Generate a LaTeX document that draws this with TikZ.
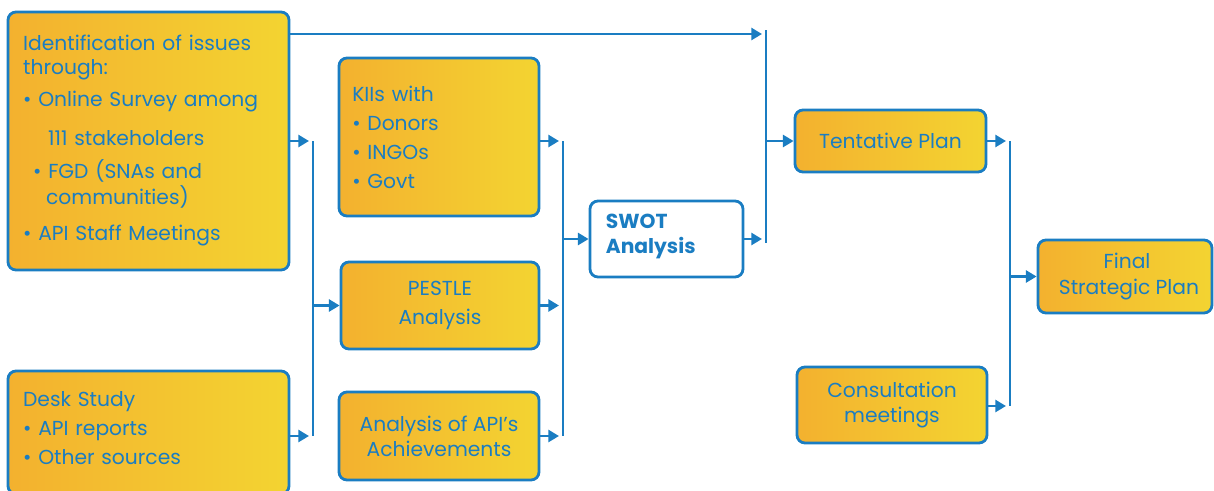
\documentclass[tikz,border=0pt]{standalone}
\usepackage{fontspec}
\setmainfont{Poppins}
\usetikzlibrary{arrows.meta,positioning}
\definecolor{apiblue}{HTML}{1A7DC2}
\definecolor{boxleft}{HTML}{F3B12F}
\definecolor{boxright}{HTML}{F3D431}
\begin{document}
\begin{tikzpicture}[x=.75pt,y=-.75pt,
  box/.style={draw=apiblue,line width=2.1pt,rounded corners=6pt,left color=boxleft,right color=boxright,
    text=apiblue,font=\fontsize{15.2}{18}\selectfont,inner sep=0pt},
  swotbox/.style={draw=apiblue,line width=2.1pt,rounded corners=6pt,fill=white,
    text=apiblue,font=\fontsize{15.2}{18}\selectfont\bfseries,inner sep=0pt},
  arr/.style={apiblue,line width=1.9pt,-{Triangle[length=8pt,width=9pt]}},
  bar/.style={apiblue,line width=1.9pt}]
\useasboundingbox (0,0) rectangle (1214,490);
% left column
\node[box,minimum width=210.75pt,minimum height=193.5pt,text width=188pt,align=left] (issues) at (148.5,141)
  {Identification of issues\\
   through:\\[6pt]
   • Online Survey among\\[11.25pt]
   \hspace*{18.75pt}111 stakeholders\\[6.75pt]
   \hspace*{7.5pt}• FGD (SNAs and\\[1.5pt]
   \hspace*{17.25pt}communities)\\[9pt]
   • API Staff Meetings\\[-12.8pt]\mbox{}};
\node[box,minimum width=210.75pt,minimum height=92.25pt,text width=188pt,align=left] (desk) at (148.5,432.5)
  {Desk Study\\[3.75pt]
   • API reports\\[3.75pt]
   • Other sources\\[-11.2pt]\mbox{}};
% second column
\node[box,minimum width=150pt,minimum height=118.5pt,text width=130pt,align=left] (kii) at (439,137)
  {KIIs with\\[3.75pt]
   • Donors\\[3.75pt]
   • INGOs\\[3.75pt]
   • Govt};
\node[box,minimum width=148.5pt,minimum height=65.25pt,align=center] (pestle) at (440,305.5)
  {PESTLE\\[3.75pt]Analysis\\[-13.5pt]\mbox{}};
\node[box,minimum width=150pt,minimum height=66pt,align=center] (achieve) at (439,436)
  {Analysis of API’s\\[0.75pt]Achievements};
% middle and right
\node[swotbox,minimum width=114.75pt,minimum height=57pt,text width=91pt,align=left] (swot) at (666.5,239)
  {SWOT\\[0.75pt]Analysis\\[-9.75pt]\mbox{}};
\node[box,minimum width=143.25pt,minimum height=46.5pt,align=center] (tentative) at (890.5,141)
  {Tentative Plan};
\node[box,minimum width=142.5pt,minimum height=57pt,align=center] (consult) at (892,405)
  {Consultation\\[0.75pt]meetings};
\node[box,minimum width=130.5pt,minimum height=54.75pt,align=center] (final) at (1125,276.5)
  {\hspace*{3pt}Final\\[1.5pt]\hspace*{6pt}Strategic Plan};
% collecting bars
\coordinate (barAtop) at (313,141);
\coordinate (barAbot) at (313,436);
\coordinate (barBtop) at (563,141);
\coordinate (barBbot) at (563,436);
\coordinate (barCtop) at (766,30);
\coordinate (barCbot) at (766,243);
\coordinate (barDtop) at (1010,141);
\coordinate (barDbot) at (1010,406);
\draw[bar] (barAtop) -- (barAbot);
\draw[bar] (barBtop) -- (barBbot);
\draw[bar] (barCtop) -- (barCbot);
\draw[bar] (barDtop) -- (barDbot);
% arrows
\draw[arr] (issues.north east |- 0,34) -- (762,34);
\draw[arr] (issues.east |- barAtop) -- ([xshift=-3pt]barAtop);
\draw[arr] (desk.east |- barAbot) -- ([xshift=-3pt]barAbot);
\draw[arr] (barAtop |- pestle) -- (pestle.west);
\draw[arr] (kii.east |- barBtop) -- ([xshift=-3pt]barBtop);
\draw[arr] (pestle.east) -- ([xshift=-3pt]barBtop |- pestle);
\draw[arr] (achieve.east |- barBbot) -- ([xshift=-3pt]barBbot);
\draw[arr] (barBtop |- swot) -- (swot.west);
\draw[arr] (swot.east) -- ([xshift=-3pt]barCtop |- swot);
\draw[arr] (barCtop |- tentative) -- (tentative.west);
\draw[arr] (tentative.east) -- ([xshift=-3pt]barDtop);
\draw[arr] (consult.east |- barDbot) -- ([xshift=-3pt]barDbot);
\draw[arr] (barDtop |- final) -- (final.west);
\end{tikzpicture}
\end{document}
